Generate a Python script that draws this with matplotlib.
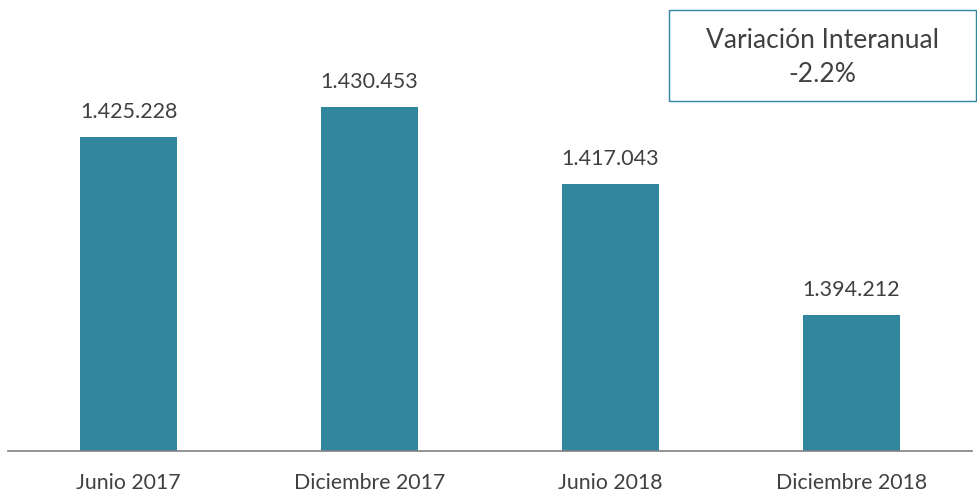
import matplotlib
matplotlib.use("Agg")
import matplotlib.pyplot as plt
from matplotlib.patches import Rectangle

categories = ["Junio 2017", "Diciembre 2017", "Junio 2018", "Diciembre 2018"]
values = [1425228, 1430453, 1417043, 1394212]
labels = ["1.425.228", "1.430.453", "1.417.043", "1.394.212"]
box_title = "Variación Interanual"
box_value = "-2.2%"

bar_color = "#31859C"
text_color = "#404040"

plt.rcParams["font.family"] = ["Lato", "DejaVu Sans"]

W, H = 977, 494
fig = plt.figure(figsize=(W / 100, H / 100), dpi=100)
# axes: x 8..972 px, y baseline 451 px, top around -7 px
ax = fig.add_axes([8 / W, (H - 451) / H, 964 / W, 458 / H])

x = range(len(categories))
ax.bar(x, values, width=0.40, color=bar_color)
ax.set_ylim(1370480, 1450400)
ax.set_xlim(-0.5, 3.5)

for xi, v, lab in zip(x, values, labels):
    ax.annotate(lab, (xi, v), xytext=(0, 11), textcoords="offset points",
                ha="center", va="bottom", fontsize=15.5, color=text_color)

ax.set_xticks(list(x))
ax.set_xticklabels(categories, fontsize=15.3, color=text_color)
ax.tick_params(axis="x", length=0, pad=16)
ax.set_yticks([])
for side in ["left", "right", "top"]:
    ax.spines[side].set_visible(False)
ax.spines["bottom"].set_color("#7f7f7f")
ax.spines["bottom"].set_linewidth(1.2)

# annotation box
bx0, by0, bx1, by1 = 669, 10, 976, 101
fig.add_artist(Rectangle((bx0 / W, 1 - by1 / H), (bx1 - bx0) / W, (by1 - by0) / H,
                         transform=fig.transFigure, facecolor="white",
                         edgecolor=bar_color, linewidth=1.0))
cx = (bx0 + bx1) / 2 / W
fig.text(cx, 1 - 40 / H, box_title, ha="center", va="center", fontsize=19, color=text_color)
fig.text(cx, 1 - 74 / H, box_value, ha="center", va="center", fontsize=19, color=text_color)

fig.savefig("out.png", dpi=100)
